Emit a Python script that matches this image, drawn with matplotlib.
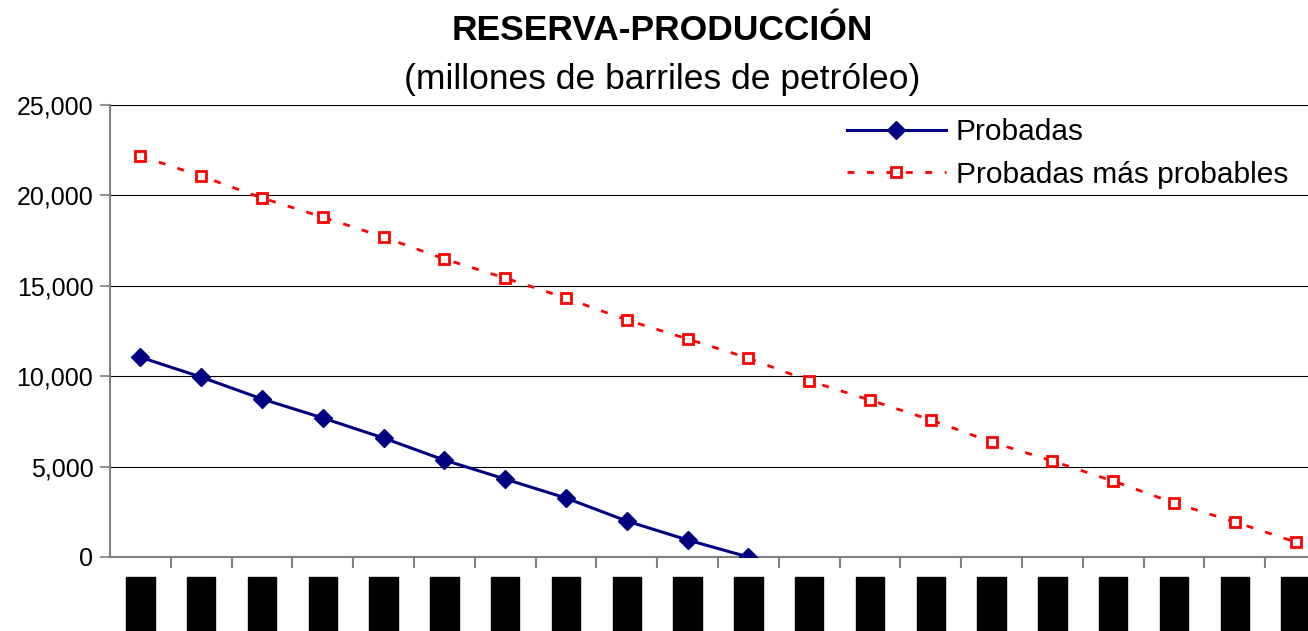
import matplotlib
matplotlib.use("Agg")
import matplotlib.pyplot as plt
from matplotlib.ticker import FuncFormatter, FixedLocator

plt.rcParams['font.family'] = ['Liberation Sans', 'DejaVu Sans']

# Años (etiquetas del eje x) y series
anios = [str(a) for a in range(2007, 2027)]
probadas = [11050, 9950, 8740, 7690, 6580, 5360, 4310, 3260, 1990, 940, 0]
probadas_mas_probables = [22180, 21070, 19860, 18800, 17700, 16480, 15430, 14320,
                          13110, 12060, 11000, 9740, 8680, 7580, 6360, 5310,
                          4200, 2990, 1940, 830]

W, H = 1308, 631
fig = plt.figure(figsize=(W / 100, H / 100), dpi=100)
# el área del gráfico sigue más allá del borde derecho (recortada)
left, right, top, bottom = 110, 1326, 105, 557
ax = fig.add_axes([left / W, 1 - bottom / H, (right - left) / W, (bottom - top) / H])

x1 = list(range(len(probadas)))
x2 = list(range(len(probadas_mas_probables)))
ax.plot(x1, probadas, color='#000080', lw=2.2, marker='D', ms=9.5,
        label='Probadas', zorder=3)
ax.plot(x2, probadas_mas_probables, color='#ff0000', lw=2, ls=(0, (2.5, 4.5)),
        marker='s', ms=7.5, mfc='white', mec='#ff0000', mew=2,
        label='Probadas más probables', zorder=3)

ax.set_xlim(-0.5, len(anios) - 0.5)
ax.set_ylim(0, 25000)
ax.set_yticks(range(0, 25001, 5000))
ax.yaxis.set_major_formatter(FuncFormatter(lambda v, _: f'{v:,.0f}'))
ax.grid(axis='y', color='#000000', lw=0.8)
ax.set_axisbelow(True)

ax.xaxis.set_major_locator(FixedLocator([i + 0.5 for i in range(len(anios) - 1)]))
ax.xaxis.set_ticklabels([])
ax.set_xticks(range(len(anios)), minor=True)
ax.set_xticklabels(anios, minor=True, rotation=90, fontsize=15, color='black',
                   va='top', ha='center')
for t in ax.get_xticklabels(minor=True):
    t.set_bbox(dict(facecolor='black', edgecolor='black', pad=3.5))
ax.tick_params(axis='x', which='minor', length=0, pad=18)
ax.tick_params(axis='x', which='major', length=8, color='#808080', width=1.5)
ax.tick_params(axis='y', length=7, color='#808080', width=1.2, labelsize=18, pad=5)

for s in ['top', 'right']:
    ax.spines[s].set_visible(False)
ax.spines['left'].set_color('#808080')
ax.spines['left'].set_linewidth(1.5)
ax.spines['bottom'].set_color('#808080')
ax.spines['bottom'].set_linewidth(1.5)

fig.text(662 / W, 1 - 31 / H, 'RESERVA-PRODUCCIÓN', ha='center', va='center',
         fontsize=25.5, fontweight='bold')
fig.text(662 / W, 1 - 80 / H, '(millones de barriles de petróleo)', ha='center',
         va='center', fontsize=25.5)

fig.legend(loc='upper left', bbox_to_anchor=(847 / W, 1 - 118 / H), frameon=False,
           fontsize=21.5, handlelength=3.3, handletextpad=0.35, labelspacing=0.5,
           borderaxespad=0, borderpad=0)

fig.savefig('out.png', dpi=100)
